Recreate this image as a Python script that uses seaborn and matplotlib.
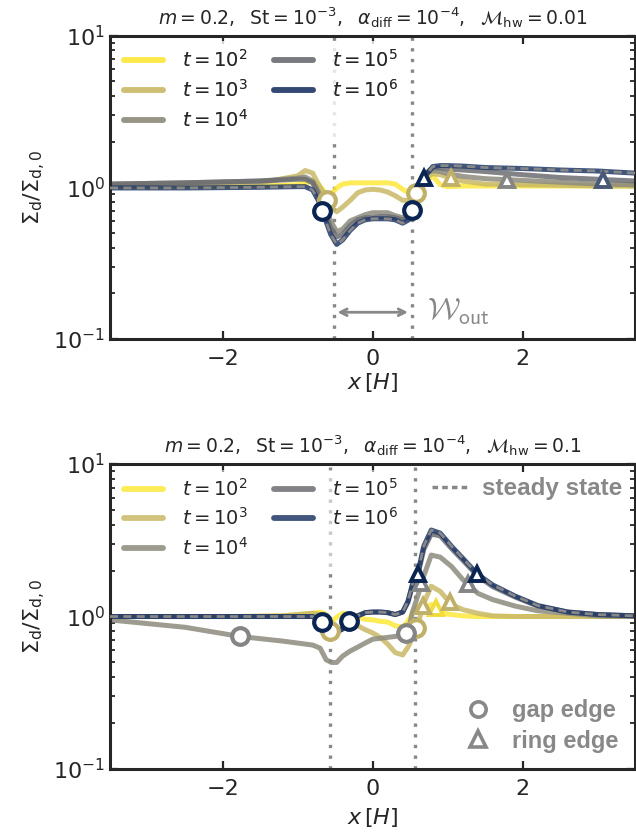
import matplotlib
matplotlib.use("Agg")
import matplotlib.pyplot as plt
from matplotlib.lines import Line2D
from matplotlib.ticker import LogLocator, NullFormatter
import pandas as pd
import seaborn as sns

# ---------------- data ----------------
times = ["1e2", "1e3", "1e4", "1e5", "1e6"]
time_labels = [r"$t=10^{2}$", r"$t=10^{3}$", r"$t=10^{4}$", r"$t=10^{5}$", r"$t=10^{6}$"]
colors = ["#fde83a", "#c9b968", "#8d8b7d", "#6c6d72", "#1f3766"]
edge_colors = ["#f3dc3a", "#c0b06a", "#858585", "#4a5878", "#0a2552"]

titles = [r"$m=0.2,\ \ \mathrm{St}=10^{-3},\ \ \alpha_{\mathrm{diff}}=10^{-4},\ \ \mathcal{M}_{\mathrm{hw}}=0.01$",
          r"$m=0.2,\ \ \mathrm{St}=10^{-3},\ \ \alpha_{\mathrm{diff}}=10^{-4},\ \ \mathcal{M}_{\mathrm{hw}}=0.1$"]
w_out_half = [0.52, 0.57]

# upper panel (M_hw = 0.01)
x_top = [-3.5, -2.5, -1.5, -1.0, -0.9, -0.8, -0.72, -0.64, -0.56, -0.48,
         -0.4, -0.3, -0.2, -0.1, 0.0, 0.1, 0.2, 0.3, 0.4, 0.48,
         0.55, 0.62, 0.7, 0.8, 0.9, 1.0, 1.2, 1.5, 2.0, 2.5,
         3.0, 3.5]
sig_top_1e2 = [1.01, 1.01, 1.02, 1.04, 1.07, 1.09, 1.04, 0.93, 0.89, 0.99,
               1.05, 1.07, 1.07, 1.07, 1.07, 1.07, 1.07, 1.05, 0.97, 0.92,
               0.95, 1.02, 1.09, 1.19, 1.04, 1.01, 1.02, 1.02, 1.02, 1.02,
               1.02, 1.02]
sig_top_1e3 = [1.02, 1.04, 1.07, 1.19, 1.29, 1.24, 1.04, 0.89, 0.74, 0.69,
               0.74, 0.82, 0.92, 0.96, 0.97, 0.96, 0.93, 0.88, 0.82, 0.82,
               0.84, 0.99, 1.15, 1.23, 1.21, 1.17, 1.10, 1.05, 1.04, 1.03,
               1.02, 1.02]
sig_top_1e4 = [1.05, 1.07, 1.10, 1.15, 1.17, 1.10, 0.93, 0.75, 0.60, 0.51,
               0.53, 0.60, 0.63, 0.66, 0.68, 0.68, 0.68, 0.65, 0.63, 0.68,
               0.82, 1.02, 1.23, 1.29, 1.27, 1.23, 1.18, 1.14, 1.11, 1.08,
               1.05, 1.04]
sig_top_1e5 = [1.05, 1.07, 1.10, 1.13, 1.13, 1.07, 0.89, 0.69, 0.54, 0.47,
               0.49, 0.56, 0.61, 0.63, 0.63, 0.64, 0.64, 0.63, 0.61, 0.63,
               0.78, 1.01, 1.23, 1.34, 1.34, 1.32, 1.30, 1.27, 1.21, 1.16,
               1.13, 1.10]
sig_top_1e6 = [0.99, 0.99, 1.00, 1.01, 1.01, 0.96, 0.81, 0.63, 0.49, 0.42,
               0.45, 0.52, 0.58, 0.61, 0.62, 0.62, 0.62, 0.61, 0.58, 0.61,
               0.75, 0.96, 1.19, 1.37, 1.39, 1.39, 1.38, 1.35, 1.33, 1.30,
               1.28, 1.24]
sig_top_steady = [0.99, 0.99, 1.00, 1.01, 1.01, 0.96, 0.81, 0.63, 0.49, 0.42,
                  0.45, 0.52, 0.58, 0.61, 0.62, 0.62, 0.62, 0.61, 0.58, 0.61,
                  0.75, 0.96, 1.19, 1.37, 1.39, 1.39, 1.38, 1.35, 1.33, 1.30,
                  1.28, 1.24]
gap_top = {"1e3": ([-0.61, 0.58], [0.83, 0.92]),
           "1e6": ([-0.67, 0.53], [0.70, 0.71])}
ring_top = {"1e3": ([1.05], [1.15]),
            "1e4": ([1.79], [1.12]),
            "1e5": ([3.07], [1.12]),
            "1e6": ([0.69], [1.16])}

# lower panel (M_hw = 0.1)
x_bot = [-3.5, -2.5, -1.77, -1.2, -0.8, -0.7, -0.62, -0.55, -0.48, -0.4,
         -0.31, -0.2, -0.1, 0.0, 0.1, 0.2, 0.3, 0.4, 0.47, 0.53,
         0.6, 0.68, 0.78, 0.9, 1.05, 1.2, 1.4, 1.6, 1.9, 2.2,
         2.6, 3.0, 3.5]
sig_bot_1e2 = [1.00, 1.00, 1.00, 1.01, 1.05, 1.07, 1.03, 0.92, 0.99, 1.05,
               1.03, 0.99, 0.96, 0.95, 0.93, 0.92, 0.87, 0.85, 0.93, 1.05,
               1.17, 1.11, 1.20, 1.06, 1.03, 1.01, 1.00, 1.00, 1.00, 1.00,
               1.00, 1.00, 1.00]
sig_bot_1e3 = [1.00, 1.00, 1.00, 1.01, 1.05, 1.03, 0.90, 0.79, 0.79, 0.86,
               0.90, 0.87, 0.82, 0.78, 0.73, 0.66, 0.58, 0.56, 0.63, 0.72,
               0.88, 1.22, 1.58, 1.46, 1.20, 1.11, 1.05, 1.01, 1.00, 1.00,
               1.00, 1.00, 1.00]
sig_bot_1e4 = [0.95, 0.85, 0.74, 0.69, 0.65, 0.62, 0.52, 0.50, 0.50, 0.55,
               0.59, 0.63, 0.67, 0.71, 0.72, 0.73, 0.74, 0.76, 0.79, 1.07,
               1.36, 1.84, 2.53, 2.45, 2.13, 1.75, 1.42, 1.29, 1.17, 1.09,
               1.05, 1.01, 1.00]
sig_bot_1e5 = [1.00, 1.00, 1.00, 1.00, 1.00, 0.95, 0.87, 0.81, 0.79, 0.83,
               0.93, 1.01, 1.06, 1.07, 1.07, 1.06, 1.03, 1.07, 1.24, 1.59,
               1.86, 2.75, 3.47, 3.38, 2.79, 2.34, 1.84, 1.57, 1.34, 1.17,
               1.07, 1.03, 1.01]
sig_bot_1e6 = [1.00, 1.00, 1.00, 1.00, 1.00, 0.95, 0.87, 0.81, 0.79, 0.83,
               0.93, 1.01, 1.06, 1.07, 1.07, 1.06, 1.03, 1.07, 1.26, 1.63,
               1.91, 2.89, 3.69, 3.52, 2.89, 2.41, 1.89, 1.61, 1.36, 1.18,
               1.07, 1.03, 1.01]
sig_bot_steady = [1.00, 1.00, 1.00, 1.00, 1.00, 0.95, 0.87, 0.81, 0.79, 0.83,
                  0.93, 1.01, 1.06, 1.07, 1.07, 1.06, 1.03, 1.07, 1.26, 1.63,
                  1.91, 2.89, 3.69, 3.52, 2.89, 2.41, 1.89, 1.61, 1.36, 1.18,
                  1.07, 1.03, 1.01]
gap_bot = {"1e3": ([-0.57, 0.58], [0.80, 0.84]),
           "1e4": ([-1.77, 0.45], [0.74, 0.78]),
           "1e6": ([-0.68, -0.31], [0.92, 0.93])}
ring_bot = {"1e2": ([0.85], [1.13]),
            "1e3": ([0.67, 1.03], [1.18, 1.24]),
            "1e4": ([0.65, 1.27], [1.66, 1.64]),
            "1e6": ([0.60, 1.39], [1.91, 1.91])}

panels = [
    dict(x=x_top, curves=[sig_top_1e2, sig_top_1e3, sig_top_1e4, sig_top_1e5, sig_top_1e6],
         steady=sig_top_steady, gap=gap_top, ring=ring_top),
    dict(x=x_bot, curves=[sig_bot_1e2, sig_bot_1e3, sig_bot_1e4, sig_bot_1e5, sig_bot_1e6],
         steady=sig_bot_steady, gap=gap_bot, ring=ring_bot),
]

# ---------------- style ----------------
sns.set_style("ticks")
plt.rcParams.update({
    "font.family": ["DejaVu Sans"],
    "mathtext.fontset": "dejavusans",
    "xtick.direction": "in", "ytick.direction": "in",
    "xtick.top": True, "ytick.right": True,
    "xtick.major.size": 6, "ytick.major.size": 6,
    "ytick.minor.size": 3.5, "xtick.major.width": 1.6,
    "ytick.major.width": 1.6, "ytick.minor.width": 1.3,
    "axes.linewidth": 2.2,
    "xtick.labelsize": 16, "ytick.labelsize": 16,
})

GRAY = "#888888"

fig = plt.figure(figsize=(6.36, 8.38), dpi=100)
axes = [fig.add_axes([0.173, 0.5955, 0.826, 0.362]),
        fig.add_axes([0.173, 0.0823, 0.826, 0.364])]

for k, (ax, p) in enumerate(zip(axes, panels)):
    for t, c, ys in zip(times, colors, p["curves"]):
        df = pd.DataFrame({"x": p["x"], "sigma": ys})
        sns.lineplot(data=df, x="x", y="sigma", ax=ax, color=c, lw=3.6,
                     alpha=0.85, sort=False, zorder=2, solid_capstyle="round",
                     solid_joinstyle="round")
    df_ss = pd.DataFrame({"x": p["x"], "sigma": p["steady"]})
    sns.lineplot(data=df_ss, x="x", y="sigma", ax=ax, color=GRAY, lw=2.0,
                 dashes=[(2.9, 1.9)], style=[0] * len(p["x"]), legend=False,
                 sort=False, zorder=3)

    for i, t in enumerate(times):
        if t in p["gap"]:
            gx, gy = p["gap"][t]
            ax.plot(gx, gy, ls="none", marker="o", ms=12, mfc="white",
                    mec=edge_colors[i], mew=3.0, zorder=4 + i * 0.1)
        if t in p["ring"]:
            rx, ry = p["ring"][t]
            ax.plot(rx, ry, ls="none", marker="^", ms=10.5, mfc="white",
                    mec=edge_colors[i], mew=2.8, zorder=4 + i * 0.1)

    for xv in (-w_out_half[k], w_out_half[k]):
        ax.axvline(xv, color=GRAY, lw=2.4, ls=(0, (1, 2.2)), zorder=1)

    ax.set_yscale("log")
    ax.set_xlim(-3.5, 3.5)
    ax.set_ylim(0.1, 10)
    ax.set_xticks([-2, 0, 2])
    ax.set_xticklabels(["\u22122", "0", "2"])
    ax.yaxis.set_major_locator(LogLocator(base=10, numticks=5))
    ax.yaxis.set_minor_locator(LogLocator(base=10, subs=range(2, 10), numticks=20))
    ax.yaxis.set_minor_formatter(NullFormatter())
    ax.tick_params(axis="both", which="both", top=True, right=True, direction="in")
    ax.tick_params(axis="x", pad=7)
    ax.set_xlabel(r"$x\,[H]$", fontsize=16, labelpad=2 + 3 * k)
    ax.set_ylabel(r"$\Sigma_{\mathrm{d}}/\Sigma_{\mathrm{d},0}$", fontsize=16, labelpad=4)
    ax.set_title(titles[k], fontsize=13.5, pad=8)

    handles = [Line2D([], [], color=c, lw=4.2, alpha=0.85) for c in colors]
    leg = ax.legend(handles, time_labels, loc="upper left", ncol=2, fontsize=14,
                    frameon=True, framealpha=0.55, facecolor="white",
                    edgecolor="none", handlelength=2.0, columnspacing=1.3,
                    labelspacing=0.4, borderaxespad=0.3, handletextpad=1.0)
    ax.add_artist(leg)

# width annotation in the upper panel
axes[0].annotate("", xy=(0.47, 0.15), xytext=(-0.47, 0.15),
                 arrowprops=dict(arrowstyle="<->", color=GRAY, lw=2.0,
                                 mutation_scale=12, shrinkA=0, shrinkB=0))
axes[0].text(0.72, 0.15, r"$\mathcal{W}_{\mathsf{out}}$", color=GRAY, fontsize=22,
             va="center", ha="left", math_fontfamily="cm")

# extra legends in the lower panel
ss_leg = axes[1].legend([Line2D([], [], color=GRAY, lw=2.5, ls=(0, (1.6, 1.2)))],
                        ["steady state"], loc="upper right", frameon=False,
                        prop=dict(family="Liberation Sans", weight="bold", size=17.5),
                        labelcolor=GRAY, handlelength=1.5,
                        handletextpad=0.55, borderaxespad=0.15)
axes[1].add_artist(ss_leg)
mk_handles = [Line2D([], [], ls="none", marker="o", ms=11, mfc="white", mec=GRAY, mew=2.6),
              Line2D([], [], ls="none", marker="^", ms=11, mfc="white", mec=GRAY, mew=2.6)]
axes[1].legend(mk_handles, ["gap edge", "ring edge"], loc="lower right", frameon=False,
               prop=dict(family="Liberation Sans", weight="bold", size=17),
               labelcolor=GRAY, handletextpad=0.45, labelspacing=0.3, borderaxespad=0.3)

fig.savefig("out.png", dpi=100)
